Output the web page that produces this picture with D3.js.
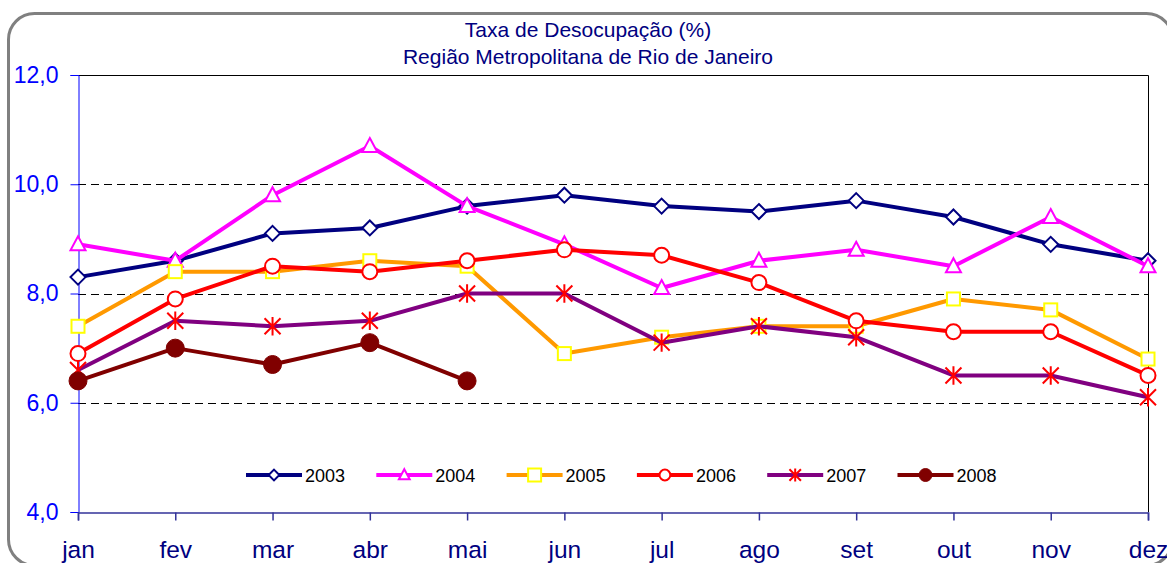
<!DOCTYPE html>
<html><head><meta charset="utf-8">
<script src="https://cdn.jsdelivr.net/npm/d3@7"></script>
<style>body{margin:0;background:#fff;}svg{display:block;font-family:Arial,"Liberation Sans",sans-serif;}</style>
</head><body>
<svg id="chart" width="1167" height="563"></svg>
<script>
const months = ["jan","fev","mar","abr","mai","jun","jul","ago","set","out","nov","dez"];
const yTicks = [4, 6, 8, 10, 12];
const titleLines = ["Taxa de Desocupação (%)", "Região Metropolitana de Rio de Janeiro"];
const s2003 = [8.3, 8.6, 9.1, 9.2, 9.6, 9.8, 9.6, 9.5, 9.7, 9.4, 8.9, 8.6];
const s2004 = [8.9, 8.6, 9.8, 10.7, 9.6, 8.9, 8.1, 8.6, 8.8, 8.5, 9.4, 8.5];
const s2005 = [7.4, 8.4, 8.4, 8.6, 8.5, 6.9, 7.2, 7.4, 7.4, 7.9, 7.7, 6.8];
const s2006 = [6.9, 7.9, 8.5, 8.4, 8.6, 8.8, 8.7, 8.2, 7.5, 7.3, 7.3, 6.5];
const s2007 = [6.6, 7.5, 7.4, 7.5, 8.0, 8.0, 7.1, 7.4, 7.2, 6.5, 6.5, 6.1];
const s2008 = [6.4, 7.0, 6.7, 7.1, 6.4];

const series = [
  {name:"2003", values:s2003, line:"#000080", marker:"diamond", mStroke:"#000080", mFill:"#fff"},
  {name:"2004", values:s2004, line:"#FF00FF", marker:"triangle", mStroke:"#FF00FF", mFill:"#fff"},
  {name:"2005", values:s2005, line:"#FF9900", marker:"square", mStroke:"#FFFF00", mFill:"#fff"},
  {name:"2006", values:s2006, line:"#FF0000", marker:"circle", mStroke:"#FF0000", mFill:"#fff"},
  {name:"2007", values:s2007, line:"#800080", marker:"asterisk", mStroke:"#FF0000", mFill:"none"},
  {name:"2008", values:s2008, line:"#800000", marker:"dot", mStroke:"#800000", mFill:"#800000"}
];

const svg = d3.select("#chart");
const L = 78, R = 1148, T = 75, B = 512;

// outer frame
svg.append("rect").attr("x",8.5).attr("y",13.5).attr("width",1164).attr("height",552)
  .attr("rx",26).attr("ry",26).attr("fill","#fff").attr("stroke","#808080").attr("stroke-width",3);

const x = d3.scalePoint().domain(months).range([L, R]);
const y = d3.scaleLinear().domain([4, 12]).range([B, T]);

// title
svg.append("g").selectAll("text").data(titleLines).join("text")
  .attr("x", 588).attr("y", (d,i)=> 37 + i*27)
  .attr("text-anchor","middle").attr("font-size",21).attr("fill","#000080").text(d=>d);

// plot frame (top, right)
svg.append("path").attr("d", `M${L},${T+0.5}H${R+0.5}V${B}`).attr("fill","none").attr("stroke","#000").attr("stroke-width",1);

// grid
svg.append("g").selectAll("line").data([6,8,10]).join("line")
  .attr("x1",L).attr("x2",R).attr("y1",d=>Math.round(y(d))+0.5).attr("y2",d=>Math.round(y(d))+0.5)
  .attr("stroke","#000").attr("stroke-width",1).attr("stroke-dasharray","8,5");

// y axis
const yAxis = svg.append("g").attr("transform",`translate(${L+0.5},0)`)
  .call(d3.axisLeft(y).tickValues(yTicks).tickSize(8).tickPadding(12)
    .tickFormat(d=>d3.format(".1f")(d).replace(".", ",")));
yAxis.select(".domain").attr("stroke","#0000FF");
yAxis.selectAll(".tick line").attr("stroke","#0000FF");
yAxis.selectAll(".tick text").attr("fill","#0000FF").attr("font-size",23).attr("font-family","Arial, 'Liberation Sans', sans-serif");

// x axis
const xAxis = svg.append("g").attr("transform",`translate(0,${B+0.5})`)
  .call(d3.axisBottom(x).tickSize(8).tickPadding(20));
xAxis.select(".domain").attr("stroke","#333399").attr("stroke-width",1.5);
xAxis.selectAll(".tick line").attr("stroke","#333399").attr("stroke-width",1.5);
xAxis.selectAll(".tick text").attr("fill","#000080").attr("font-size",24.5).attr("font-family","Arial, 'Liberation Sans', sans-serif");

function drawMarker(g, s, cx, cy, k) {
  const m = s.marker;
  if (m === "diamond") {
    const r = 7.5*k;
    g.append("path").attr("d", `M${cx},${cy-r}L${cx+r},${cy}L${cx},${cy+r}L${cx-r},${cy}Z`)
      .attr("fill", s.mFill).attr("stroke", s.mStroke).attr("stroke-width",2);
  } else if (m === "triangle") {
    g.append("path").attr("d", `M${cx},${cy-8*k}L${cx+7.5*k},${cy+6*k}L${cx-7.5*k},${cy+6*k}Z`)
      .attr("fill", s.mFill).attr("stroke", s.mStroke).attr("stroke-width",2);
  } else if (m === "square") {
    g.append("rect").attr("x",cx-6.5).attr("y",cy-6.5).attr("width",13).attr("height",13)
      .attr("fill", s.mFill).attr("stroke", s.mStroke).attr("stroke-width",2);
  } else if (m === "circle") {
    g.append("circle").attr("cx",cx).attr("cy",cy).attr("r",7.5*k)
      .attr("fill", s.mFill).attr("stroke", s.mStroke).attr("stroke-width",2);
  } else if (m === "asterisk") {
    const r = 8*k;
    const d = `M${cx-r},${cy-r}L${cx+r},${cy+r}M${cx-r},${cy+r}L${cx+r},${cy-r}M${cx},${cy-r*1.15}L${cx},${cy+r*1.15}`;
    g.append("path").attr("d", d).attr("fill","none").attr("stroke", s.mStroke).attr("stroke-width",2);
  } else if (m === "dot") {
    g.append("circle").attr("cx",cx).attr("cy",cy).attr("r",9*k)
      .attr("fill", s.mFill).attr("stroke", s.mStroke).attr("stroke-width",1);
  }
}

const line = d3.line().x((d,i)=>x(months[i])).y(d=>y(d));
series.forEach(s => {
  const g = svg.append("g");
  g.append("path").attr("d", line(s.values)).attr("fill","none").attr("stroke", s.line)
    .attr("stroke-width",4).attr("stroke-linejoin","round");
  s.values.forEach((v,i) => drawMarker(g, s, x(months[i]), y(v), 1));
});

// legend
const lg = svg.append("g");
series.forEach((s,i) => {
  const x0 = 246 + i*130.3, yy = 475;
  const g = lg.append("g");
  g.append("line").attr("x1",x0).attr("x2",x0+56).attr("y1",yy).attr("y2",yy).attr("stroke",s.line).attr("stroke-width",4);
  drawMarker(g, s, x0+28, yy, 0.72);
  g.append("text").attr("x",x0+59).attr("y",yy+7).attr("font-size",18).attr("fill","#000").text(s.name);
});
</script>
</body></html>
